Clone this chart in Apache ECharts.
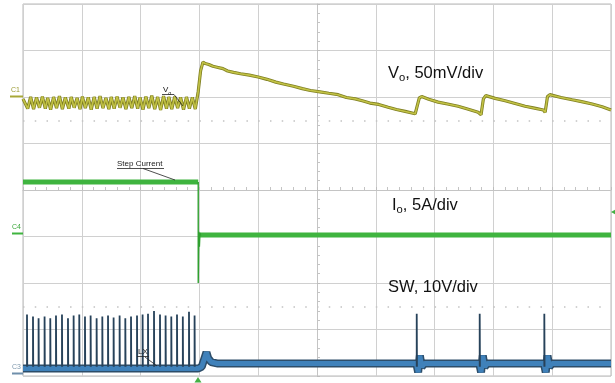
<!DOCTYPE html>
<html>
<head>
<meta charset="utf-8">
<title>Load step response</title>
<script src="https://cdn.jsdelivr.net/npm/echarts/dist/echarts.min.js"></script>
<style>
  html, body { margin: 0; padding: 0; background: #fff; }
  #chart { width: 615px; height: 383px; }
</style>
</head>
<body>
<div id="chart"></div>
<script>
// all values in screen divisions: x -5..5 (10 div), y -4..4 (8 div)

// Vo, C1 (50mV/div)
const voT = [-5.00, -4.92, -4.87, -4.82, -4.77, -4.72, -4.67, -4.62, -4.58, -4.53, -4.48, -4.43, -4.38, -4.33, -4.28,
  -4.22, -4.18, -4.13, -4.08, -4.03, -3.99, -3.94, -3.89, -3.84, -3.79, -3.74, -3.69, -3.64, -3.59, -3.54,
  -3.50, -3.45, -3.40, -3.35, -3.30, -3.25, -3.20, -3.15, -3.10, -3.05, -3.01, -2.96, -2.91, -2.86, -2.81,
  -2.76, -2.71, -2.66, -2.61, -2.56, -2.52, -2.47, -2.42, -2.37, -2.32, -2.27, -2.22, -2.17, -2.12, -2.07,
  -2.02, -1.98, -1.94, -1.90, -1.84, -1.77, -1.70, -1.60, -1.52, -1.42, -1.30, -1.15, -1.00, -0.85, -0.70,
  -0.57, -0.40, -0.25, -0.11, 0.05, 0.20, 0.36, 0.50, 0.65, 0.77, 0.90, 1.05, 1.21, 1.35, 1.50,
  1.67, 1.70, 1.74, 1.78, 1.90, 2.06, 2.22, 2.40, 2.56, 2.74, 2.79, 2.83, 2.87, 3.03, 3.20,
  3.37, 3.54, 3.70, 3.85, 3.88, 3.92, 3.96, 4.15, 4.34, 4.50, 4.68, 4.85, 5.00]
const voV = [1.96, 1.75, 2.00, 1.74, 1.99, 1.77, 2.01, 1.75, 1.98, 1.73, 2.00, 1.76, 2.02, 1.74, 1.99,
  1.75, 2.00, 1.77, 1.98, 1.74, 2.01, 1.76, 1.99, 1.73, 2.00, 1.75, 2.02, 1.76, 1.98, 1.74,
  2.00, 1.75, 2.01, 1.77, 1.99, 1.74, 2.00, 1.76, 2.02, 1.75, 1.99, 1.73, 2.01, 1.76, 2.03,
  1.74, 2.00, 1.72, 2.02, 1.75, 2.00, 1.74, 2.01, 1.76, 1.99, 1.73, 2.00, 1.75, 1.99, 1.74,
  2.12, 2.56, 2.75, 2.72, 2.70, 2.66, 2.64, 2.61, 2.56, 2.53, 2.50, 2.47, 2.43, 2.38, 2.32,
  2.28, 2.23, 2.18, 2.14, 2.11, 2.08, 2.05, 1.99, 1.96, 1.92, 1.87, 1.84, 1.78, 1.73, 1.69,
  1.64, 1.62, 1.98, 2.01, 1.95, 1.89, 1.85, 1.80, 1.74, 1.67, 1.62, 1.96, 2.03, 1.97, 1.92,
  1.86, 1.80, 1.76, 1.72, 1.67, 2.01, 2.05, 1.99, 1.94, 1.90, 1.85, 1.79, 1.72]

// Io, C4 (5A/div) - null splits before / after the step
const ioT = [-5.00, -2.02, -2.02, -2.00, 5.00]
const ioV = [0.17, 0.17, null, -0.97, -0.97]
// step edge (thin)
const ioEdgeT = [-2.02, -2.02, -2.01, -2.00, -1.99, -1.98]
const ioEdgeV = [0.17, -2.00, -0.90, -1.22, -0.92, -0.98]

// SW, C3 (10V/div)
const swBaseT = [-5.00, -2.02, -1.96, -1.88, -1.85, -1.80, -1.70, 1.69, 1.72, 1.75, 1.78, 1.83,
  2.76, 2.79, 2.82, 2.85, 2.90, 3.86, 3.89, 3.92, 3.95, 4.00, 5.00]
const swBaseV = [-3.84, -3.84, -3.80, -3.49, -3.62, -3.70, -3.73, -3.73, -3.92, -3.56, -3.80, -3.73,
  -3.73, -3.92, -3.56, -3.80, -3.73, -3.73, -3.92, -3.56, -3.80, -3.73, -3.73]
const swSpikeT = [-4.932, -4.830, -4.735, -4.633, -4.536, -4.439, -4.337, -4.235, -4.139, -4.043,
  -3.946, -3.850, -3.748, -3.651, -3.554, -3.459, -3.357, -3.260, -3.163, -3.061,
  -2.966, -2.874, -2.772, -2.670, -2.575, -2.478, -2.381, -2.282, -2.177, -2.082,
  1.696, 2.767, 3.866]
const swSpikeTop = [-2.68, -2.72, -2.76, -2.72, -2.76, -2.70, -2.68, -2.76, -2.70, -2.68,
  -2.72, -2.70, -2.76, -2.72, -2.70, -2.74, -2.70, -2.76, -2.72, -2.70,
  -2.68, -2.66, -2.60, -2.68, -2.70, -2.72, -2.68, -2.72, -2.62, -2.70,
  -2.66, -2.66, -2.66]
const swSpikeBase = -3.80

// dotted half-division rows
const dotRows = [1.5, -2.5]

const zip = (t, v) => t.map((x, i) => [x, v[i]])
const spikeData = []
swSpikeT.forEach((t, i) => {
  spikeData.push([t, swSpikeBase], [t, swSpikeTop[i]], [t + 0.004, swSpikeBase], [t, null])
})

const FONT = '"Liberation Sans", Arial, sans-serif'
const chart = echarts.init(document.getElementById('chart'))

const axisCommon = {
  type: 'value',
  interval: 1,
  axisLabel: { show: false },
  axisLine: { show: true, onZero: true, lineStyle: { color: '#c4c4c4' } },
  axisTick: { show: true, inside: true, length: 3, lineStyle: { color: '#bdbdbd' } },
  minorTick: { show: true, splitNumber: 5, length: 3, lineStyle: { color: '#c4c4c4' } },
  splitLine: { show: true, lineStyle: { color: '#d0d0d0', width: 1 } },
}

const label = (x, y, text, size, color) => ({
  type: 'text', x, y, z: 100, silent: true,
  style: { text, fill: color || '#222', font: size + 'px ' + FONT, verticalAlign: 'middle' },
})
const subLabel = (x, y, a, b, c, size) => ({
  type: 'text', x, y, z: 100, silent: true,
  style: {
    text: '{a|' + a + '}{b|' + b + '}{a|' + c + '}',
    verticalAlign: 'middle',
    rich: {
      a: { fontSize: size, fontFamily: FONT, fill: '#111', lineHeight: size + 4 },
      b: { fontSize: size * 0.68, fontFamily: FONT, fill: '#111', lineHeight: size * 0.68 + 3, verticalAlign: 'bottom' },
    },
  },
})
const seg = (x1, y1, x2, y2, color, w) => ({
  type: 'line', z: 100, silent: true,
  shape: { x1, y1, x2, y2 },
  style: { stroke: color || '#222', lineWidth: w || 0.8 },
})

const option = {
  animation: false,
  backgroundColor: '#fff',
  grid: { left: 23, right: 4, top: 4, bottom: 7, show: true, borderColor: '#b8b8b8', borderWidth: 1 },
  xAxis: Object.assign({}, axisCommon, { min: -5, max: 5 }),
  yAxis: Object.assign({}, axisCommon, { min: -4, max: 4 }),
  series: [
    {
      name: 'dots', type: 'line', data: [], silent: true,
      markLine: {
        silent: true, symbol: ['none', 'none'], label: { show: false },
        lineStyle: { type: [1.5, 10.26], color: '#c2c2c2', width: 1.5 },
        data: dotRows.map((y) => ({ yAxis: y })),
      },
    },
    {
      name: 'Io', type: 'line', data: zip(ioT, ioV), connectNulls: false,
      showSymbol: false, lineStyle: { color: '#3fb43f', width: 5 },
    },
    {
      name: 'Io edge', type: 'line', data: zip(ioEdgeT, ioEdgeV),
      showSymbol: false, lineStyle: { color: '#2fa02f', width: 1.4 },
    },
    {
      name: 'Vo shadow', type: 'line', data: zip(voT, voV),
      showSymbol: false, lineStyle: { color: '#7f7f22', width: 3.2 },
    },
    {
      name: 'Vo', type: 'line', data: zip(voT, voV),
      showSymbol: false, lineStyle: { color: '#c2c245', width: 1.6 },
    },
    {
      name: 'SW shadow', type: 'line', data: zip(swBaseT, swBaseV),
      showSymbol: false, lineStyle: { color: '#2d4d69', width: 8 },
    },
    {
      name: 'SW', type: 'line', data: zip(swBaseT, swBaseV),
      showSymbol: false, lineStyle: { color: '#3f81ba', width: 5 },
    },
    {
      name: 'SW spikes', type: 'line', data: spikeData, connectNulls: false,
      showSymbol: false, lineStyle: { color: '#27425a', width: 1.8 },
    },
  ],
  graphic: [
    subLabel(388, 73, 'V', 'o', ', 50mV/div', 16.5),
    subLabel(392, 205, 'I', 'o', ', 5A/div', 16.5),
    label(388, 287, 'SW, 10V/div', 16.5, '#111'),
    // small scope annotations
    subLabel(163, 90, 'V', 'o', '', 8),
    seg(162, 94.5, 174, 94.5),
    seg(174, 94.5, 183, 106),
    label(117, 164, 'Step Current', 8),
    seg(117, 168.5, 164, 168.5),
    seg(143, 168.5, 175, 180),
    label(138, 352, 'LX', 8),
    seg(137, 356.5, 149, 356.5),
    seg(145, 357, 157, 366),
    // channel ground markers
    label(11, 90, 'C1', 7, '#9a9a30'),
    seg(10, 96.5, 23, 96.5, '#a8a838', 2),
    label(12, 227.5, 'C4', 7, '#3aa83a'),
    seg(12, 233.5, 23, 233.5, '#3fb43f', 2),
    label(12, 367, 'C3', 7, '#7f98ad'),
    seg(12, 373.5, 23, 373.5, '#6f8fab', 2),
    // trigger markers
    { type: 'polygon', z: 100, silent: true, shape: { points: [[611, 212], [617, 208.5], [617, 215.5]] }, style: { fill: '#44b044' } },
    { type: 'polygon', z: 100, silent: true, shape: { points: [[198, 377], [194.5, 382.5], [201.5, 382.5]] }, style: { fill: '#44b044' } },
  ],
}

chart.setOption(option)
</script>
</body>
</html>
